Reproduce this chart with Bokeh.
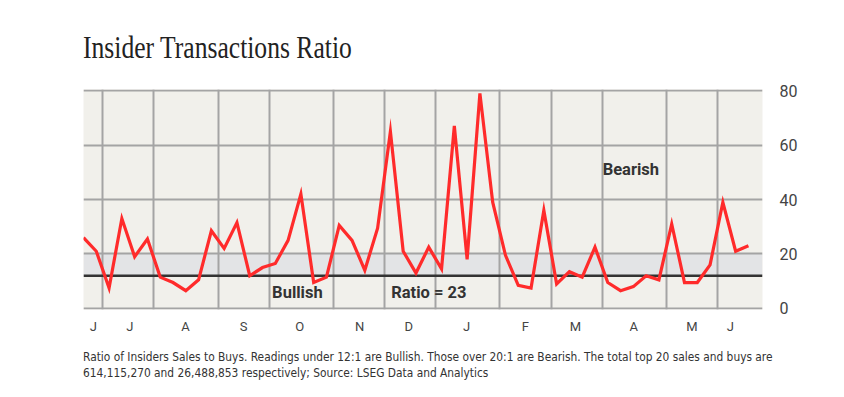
from bokeh.plotting import figure
from bokeh.models import (ColumnDataSource, FixedTicker, BoxAnnotation, Span, Label,
                          Range1d, Div)
from bokeh.layouts import column
from bokeh.embed import file_html
from bokeh.resources import INLINE

# ---- data -------------------------------------------------------------
ratio = [26, 21, 7.5, 33, 19, 25.5, 11.5, 9.5, 6.5, 10.5, 28.5, 22, 31.5, 12,
         15, 16.5, 25, 42, 9.5, 11.5, 30.5, 25, 14, 29.5, 65, 21, 13, 22.5,
         14.5, 67, 18, 79, 39, 19.5, 8.5, 7.5, 36, 9, 13.5, 11.5, 22.5, 9.5,
         6.5, 8, 12, 10.5, 31, 9.5, 9.5, 16, 39, 21, 23]
week = list(range(len(ratio)))

month_labels = ["J", "J", "A", "S", "O", "N", "D", "J", "F", "M", "A", "M", "J"]
month_label_pos = [0.76, 3.62, 7.97, 12.53, 16.91, 21.6, 25.43, 29.95, 34.56,
                   38.47, 43.03, 47.59, 50.58]
month_starts = [1.49, 5.47, 10.55, 14.54, 19.55, 23.53, 27.52, 32.53, 36.59,
                40.58, 45.58, 49.57]
y_ticks = [0, 20, 40, 60, 80]
bullish_level = 12
bearish_level = 20
current_ratio = ratio[-1]

title_text = "Insider Transactions Ratio"
note_line1 = ("Ratio of Insiders Sales to Buys. Readings under 12:1 are Bullish. "
              "Those over 20:1 are Bearish. The total top 20 sales and buys are")
note_line2 = "614,115,270 and 26,488,853 respectively; Source: LSEG Data and Analytics"

# ---- figure -----------------------------------------------------------
BG = "#f1f0eb"
GRID = "#a4a4a4"

p = figure(width=836, height=266, frame_width=679, frame_height=220,
           min_border_left=83, min_border_right=74, min_border_top=11,
           min_border_bottom=35,
           x_range=Range1d(0, 53.1), y_range=Range1d(-0.4, 80.4),
           y_axis_location="right", output_backend="svg",
           toolbar_location=None)
p.background_fill_color = BG
p.border_fill_color = "white"
p.outline_line_color = None

band = BoxAnnotation(bottom=bullish_level, top=bearish_level,
                     fill_color="#e3e4e6", fill_alpha=1.0, line_color=None,
                     level="image")
p.add_layout(band)

p.xgrid.ticker = FixedTicker(ticks=month_starts)
p.ygrid.ticker = FixedTicker(ticks=y_ticks)
for g in (p.xgrid, p.ygrid):
    g.grid_line_color = GRID
    g.grid_line_width = 2

p.add_layout(Span(location=bullish_level, dimension="width",
                  line_color="#333333", line_width=2.5, level="underlay"))

src = ColumnDataSource(dict(week=week, ratio=ratio))
p.line("week", "ratio", source=src, line_color="#ff2b2b", line_width=3.2,
       line_join="miter")

xa = p.xaxis[0]
xa.ticker = FixedTicker(ticks=month_label_pos)
xa.major_label_overrides = {pos: lab for pos, lab in zip(month_label_pos, month_labels)}
ya = p.yaxis[0]
ya.ticker = FixedTicker(ticks=y_ticks)
for ax in (xa, ya):
    ax.axis_line_color = None
    ax.major_tick_line_color = None
    ax.minor_tick_line_color = None
    ax.major_tick_out = 0
    ax.major_tick_in = 0
    ax.major_label_text_color = "#444444"
    ax.major_label_text_font = "Roboto"
xa.major_label_text_font_size = "13px"
xa.major_label_standoff = 9
ya.major_label_text_font_size = "16px"
ya.major_label_standoff = 17

lab_style = dict(text_font="Roboto", text_font_style="bold",
                 text_font_size="16.5px", text_color="#333333",
                 text_baseline="middle", text_align="left")
p.add_layout(Label(x=14.75, y=6.0, text="Bullish", **lab_style))
p.add_layout(Label(x=24.06, y=6.0, text=f"Ratio = {current_ratio}", **lab_style))
p.add_layout(Label(x=40.6, y=50.9, text="Bearish", **lab_style))

title = Div(text=(f'<div style="padding:31px 0 0 83px;">'
                  f'<span style="display:inline-block;font-family:\'Liberation Serif\',serif;'
                  f'font-size:32px;line-height:1;color:#222;white-space:nowrap;'
                  f'transform:scale(0.8,1);transform-origin:left center;">{title_text}</span></div>'),
            width=836, height=78, margin=(0, 0, 0, 0))

note = Div(text=(f'<div style="padding:5px 0 0 83px;">'
                 f'<div style="display:inline-block;font-family:\'Liberation Sans Narrow\','
                 f'\'DejaVu Sans Condensed\',sans-serif;font-size:13px;line-height:16px;'
                 f'color:#333;white-space:nowrap;transform:scale(0.91,1);'
                 f'transform-origin:left top;">{note_line1}<br>{note_line2}</div></div>'),
           width=836, height=42, margin=(0, 0, 0, 0))

layout = column(title, p, note, spacing=0)

with open("out.html", "w") as f:
    f.write(file_html(layout, INLINE))
